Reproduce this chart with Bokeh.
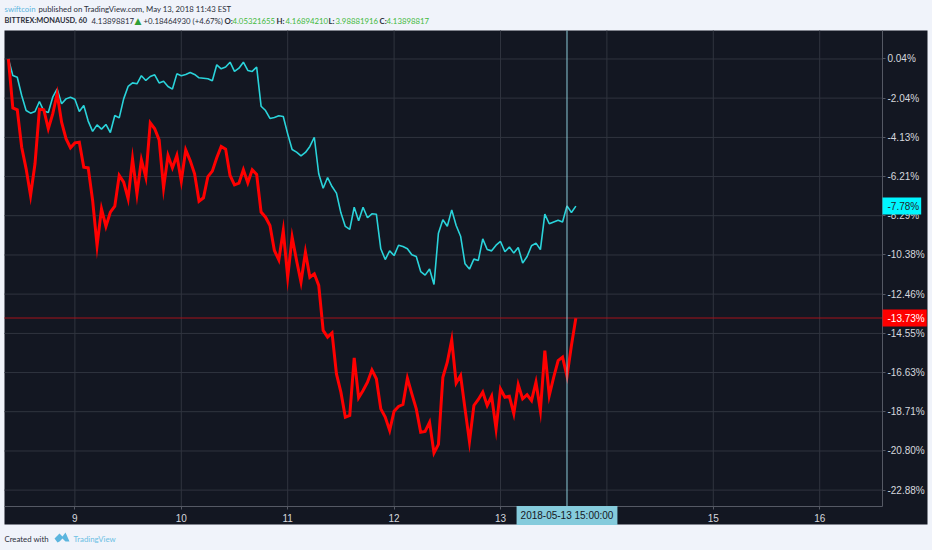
from bokeh.plotting import figure
from bokeh.models import Label, LinearAxis, FixedTicker, PolyAnnotation
from bokeh.embed import file_html
from bokeh.resources import INLINE

cyan_pct = [0.04,-0.84,-0.93,-1.90,-2.70,-2.84,-2.75,-2.22,-2.73,-2.80,-1.99,-1.55,-2.34,-2.08,-1.99,-2.10,-2.75,-2.43,-3.26,-3.81,
 -3.46,-3.69,-3.44,-3.87,-2.96,-3.09,-2.08,-1.42,-1.23,-1.28,-0.85,-1.10,-0.89,-0.80,-1.23,-1.14,-1.42,-1.56,-0.75,-0.85,
 -0.78,-0.68,-0.78,-0.96,-0.98,-1.01,-1.12,-0.27,-0.48,-0.39,-0.13,-0.62,-0.45,-0.13,-0.57,-0.62,-0.39,-2.47,-2.70,-3.12,
 -3.07,-2.98,-3.02,-3.94,-4.77,-4.91,-5.11,-4.93,-4.61,-4.12,-6.06,-6.83,-6.26,-6.74,-7.09,-8.14,-8.86,-9.02,-7.84,-8.56,
 -7.84,-8.40,-8.19,-8.21,-10.05,-10.62,-10.16,-10.41,-9.86,-9.93,-10.05,-10.37,-10.46,-11.26,-11.45,-11.12,-11.95,-9.22,-8.51,-8.85,
 -7.98,-8.81,-9.38,-10.85,-11.13,-10.60,-10.67,-9.52,-10.09,-10.16,-9.86,-9.66,-10.21,-9.96,-10.28,-9.98,-10.81,-10.46,-9.89,-9.75,
 -10.09,-8.21,-8.72,-8.62,-8.53,-8.63,-7.77,-8.12,-7.78]
red_pct = [0.04,-2.56,-2.66,-4.65,-5.80,-7.22,-5.53,-2.63,-2.66,-3.67,-2.88,-1.81,-3.32,-4.20,-4.68,-4.42,-4.38,-5.71,-5.75,-7.48,
 -9.88,-7.93,-8.86,-8.10,-7.78,-6.15,-6.51,-7.39,-5.27,-7.13,-5.32,-6.24,-3.35,-3.67,-4.26,-6.81,-5.09,-5.75,-5.09,-6.45,
 -4.79,-5.36,-6.06,-7.52,-7.34,-6.21,-5.92,-5.21,-4.61,-4.75,-6.15,-6.65,-6.56,-5.85,-6.54,-5.85,-6.10,-8.10,-8.37,-8.81,
 -10.14,-10.64,-9.08,-11.56,-9.43,-10.67,-11.82,-10.23,-11.56,-11.38,-12.00,-14.39,-14.75,-14.52,-16.70,-17.67,-19.00,-18.91,-15.85,-17.97,
 -17.58,-17.14,-16.49,-16.96,-18.56,-19.00,-19.71,-18.68,-18.43,-18.33,-16.93,-17.76,-18.56,-19.80,-19.76,-19.27,-20.90,-20.45,-16.88,-16.08,
 -14.89,-17.19,-16.79,-18.56,-20.30,-18.38,-18.06,-17.67,-18.38,-17.89,-19.62,-17.50,-17.94,-17.89,-18.82,-17.27,-18.03,-17.81,-18.12,-17.14,
 -18.65,-15.46,-17.85,-16.88,-15.99,-15.81,-16.82,-15.19,-13.73]
start_day = 8 + 9 / 24
hours = list(range(len(cyan_pct)))
days = [start_day + h / 24 for h in hours]

y_ticks = [0.04,-2.04,-4.13,-6.21,-8.29,-10.38,-12.46,-14.55,-16.63,-18.71,-20.80,-22.88]
y_labels = ["0.04%","-2.04%","-4.13%","-6.21%","-8.29%","-10.38%","-12.46%","-14.55%","-16.63%","-18.71%","-20.80%","-22.88%"]
x_ticks = [9,10,11,12,13,14,15,16]
x_labels = ["9","10","11","12","13","14","15","16"]
last_cyan, last_red = -7.78, -13.73
cross_day = 13 + 15 / 24

DARK, LIGHT, GRID, AXT = "#131722", "#f0f3fa", "#30343f", "#d6d8de"
W, H = 932, 550
# pane limits, and the ranges that map them onto the whole canvas
X0, X1, Y0, Y1 = 8.3383, 16.590, -23.75, 1.555
p = figure(width=W, height=H, output_backend="svg", toolbar_location=None,
           x_range=(8.3008, 17.0602), y_range=(-26.09, 3.150),
           x_axis_location=None, y_axis_location=None, min_border=0,
           background_fill_color=LIGHT, border_fill_color=LIGHT, outline_line_color=None)
p.grid.visible = False

# dark block holding the plot pane and its two axes
p.quad(left=[X0], right=[8.3008 + 927 / 106.4], top=[Y1], bottom=[3.150 - 524 / 18.81], fill_color=DARK, line_color=None, level="image")

xa = LinearAxis(ticker=FixedTicker(ticks=x_ticks), major_label_overrides=dict(zip(x_ticks, x_labels)),
                fixed_location=Y0, bounds=(X0, X1))
ya = LinearAxis(ticker=FixedTicker(ticks=y_ticks), major_label_overrides=dict(zip(y_ticks, y_labels)),
                fixed_location=X1, bounds=(Y0, Y1))
for a in (xa, ya):
    a.axis_line_color = "#555964"
    a.major_tick_line_color = "#555964"
    a.major_tick_in = 0
    a.major_tick_out = 3
    a.minor_tick_line_color = None
    a.major_label_text_color = AXT
    a.major_label_text_font = "Liberation Sans"
    a.major_label_text_font_size = "10px"
    a.major_label_standoff = 2
p.add_layout(xa, "below")
p.add_layout(ya, "right")
xa.major_label_standoff = 5
p.segment(x0=x_ticks, x1=x_ticks, y0=[Y0] * len(x_ticks), y1=[Y1] * len(x_ticks), line_color=GRID, line_width=1, level="underlay")
p.segment(x0=[X0] * len(y_ticks), x1=[X1] * len(y_ticks), y0=y_ticks, y1=y_ticks, line_color=GRID, line_width=1, level="underlay")

p.line(days, cyan_pct, line_color="#2ad3da", line_width=1.6)
p.line(days, red_pct, line_color="#ff0000", line_width=3, line_join="miter")
p.segment(x0=[X0], x1=[X1], y0=[last_red], y1=[last_red], line_color="#a5121a", line_width=1)
p.segment(x0=[cross_day], x1=[cross_day], y0=[Y0], y1=[Y1], line_color="#8ccbd8", line_width=1)

def txt(x, y, s, color="#2b2f3a", bold=False, size="7.8px", font="Lato"):
    p.add_layout(Label(x=x, y=y, x_units="canvas", y_units="canvas", text=s, text_color=color,
                       text_font=font, text_font_size=size, text_baseline="middle",
                       text_font_style="bold" if bold else "normal"))

GREEN = "#43b93c"
txt(4, 8, "swiftcoin", "#5bb5de")
txt(38, 8, "published on TradingView.com, May 13, 2018 11:43 EST")
txt(4, 20, "BITTREX:MONAUSD, 60", bold=True, size="7.4px")
txt(91, 20, "4.13898817")
txt(134, 20, "▲", "#2f9e36", size="9px", font="DejaVu Sans")
txt(143, 20, "+0.18464930 (+4.67%)")
txt(224, 20, "O:", bold=True); txt(232, 20, "4.05321655", GREEN)
txt(276, 20, "H:", bold=True); txt(285, 20, "4.16894210", GREEN)
txt(328, 20, "L:", bold=True); txt(335, 20, "3.98881916", GREEN)
txt(379, 20, "C:", bold=True); txt(386, 20, "4.13898817", GREEN)
txt(4, 538, "Created with")
txt(73, 538, "TradingView", "#6cc0e4")
p.add_layout(PolyAnnotation(xs=[54, 59, 62, 65, 69, 65, 62, 59, 57, 54], ys=[538, 533, 536, 532, 541, 541, 538, 541, 542, 538],
                            xs_units="canvas", ys_units="canvas", fill_color="#5bb5de", fill_alpha=1, line_color=None))

def tag(v, s, bg, fg):
    p.add_layout(Label(x=882, x_units="canvas", y=v, y_units="data", text=s, text_color=fg, text_baseline="middle",
                       text_font="Liberation Sans", text_font_size="10px", background_fill_color=bg,
                       padding=(5, 2, 3, 3)))
tag(last_cyan, "-7.78%", "#00f6ff", "#20242c")
tag(last_red, "-13.73%", "#ff0000", "#ffffff")
p.add_layout(Label(x=cross_day, x_units="data", y=515, y_units="canvas", text="2018-05-13 15:00:00", text_color="#15181f",
                   text_align="center", text_baseline="middle", text_font="Liberation Sans", text_font_size="10px",
                   background_fill_color="#85cbdc", padding=(4, 4)))

html = file_html(p, INLINE)
html = html.replace("</head>", f"<style>html,body{{margin:0;background:{LIGHT};overflow:hidden}}</style></head>", 1)
open("out.html", "w").write(html)
